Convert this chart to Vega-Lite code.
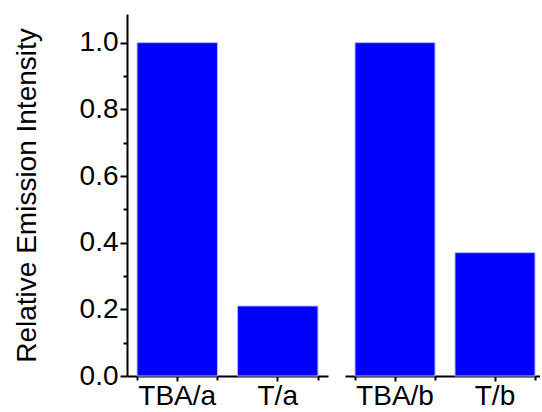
{
  "$schema": "https://vega.github.io/schema/vega-lite/v6.json",
  "padding": {"left": 13, "top": 14, "right": 0, "bottom": 0},
  "background": "white",
  "config": {
    "view": {"stroke": null},
    "font": "Liberation Sans",
    "axis": {
      "labelFont": "Liberation Sans",
      "titleFont": "Liberation Sans",
      "labelColor": "black",
      "titleColor": "black",
      "domainColor": "black",
      "tickColor": "black",
      "domainWidth": 2,
      "tickWidth": 2,
      "grid": false
    }
  },
  "data": {
    "values": [
      {"label": "TBA/a", "group": "a", "value": 1.0},
      {"label": "T/a", "group": "a", "value": 0.21},
      {"label": "TBA/b", "group": "b", "value": 1.0},
      {"label": "T/b", "group": "b", "value": 0.37}
    ]
  },
  "spacing": 17,
  "hconcat": [
    {
      "width": 201,
      "height": 362,
      "transform": [{"filter": "datum.group == 'a'"}],
      "layer": [
        {
          "mark": {"type": "bar", "fill": "#0000ff", "stroke": "#b4b4ff", "strokeWidth": 1},
          "encoding": {
            "x": {
              "field": "label", "type": "nominal", "sort": null,
              "scale": {"paddingInner": 0.2, "paddingOuter": 0.1},
              "axis": {"title": null, "labelAngle": 0, "labelFontSize": 28, "labelPadding": 1, "tickSize": 5, "orient": "bottom"}
            },
            "y": {
              "field": "value", "type": "quantitative",
              "scale": {"domain": [0, 1.086], "nice": false, "zero": true},
              "axis": {
                "title": "Relative Emission Intensity",
                "titleFontSize": 28,
                "titleFontWeight": "normal",
                "titlePadding": 38,
                "labelFontSize": 28,
                "labelPadding": 2,
                "values": [0, 0.1, 0.2, 0.3, 0.4, 0.5, 0.6, 0.7, 0.8, 0.9, 1.0],
                "labelExpr": "round(datum.value * 10) % 2 == 0 ? format(datum.value, '.1f') : ''",
                "tickSize": {"condition": {"test": "round(datum.value * 10) % 2 == 1", "value": 4}, "value": 7}
              }
            }
          }
        },
        {
          "mark": {"type": "point", "opacity": 0},
          "encoding": {
            "x": {
              "field": "label", "type": "nominal", "sort": null,
              "axis": {"title": null, "labels": false, "domain": false, "tickBand": "extent", "tickSize": 4, "orient": "bottom"}
            }
          }
        }
      ],
      "resolve": {"axis": {"x": "independent"}}
    },
    {
      "width": 195,
      "height": 362,
      "transform": [{"filter": "datum.group == 'b'"}],
      "layer": [
        {
          "mark": {"type": "bar", "fill": "#0000ff", "stroke": "#b4b4ff", "strokeWidth": 1},
          "encoding": {
            "x": {
              "field": "label", "type": "nominal", "sort": null,
              "scale": {"paddingInner": 0.2, "paddingOuter": 0.075, "align": 0.667},
              "axis": {"title": null, "labelAngle": 0, "labelFontSize": 28, "labelPadding": 1, "tickSize": 5, "orient": "bottom"}
            },
            "y": {
              "field": "value", "type": "quantitative",
              "scale": {"domain": [0, 1.086], "nice": false, "zero": true},
              "axis": null
            }
          }
        },
        {
          "mark": {"type": "point", "opacity": 0},
          "encoding": {
            "x": {
              "field": "label", "type": "nominal", "sort": null,
              "axis": {"title": null, "labels": false, "domain": false, "tickBand": "extent", "tickSize": 4, "orient": "bottom"}
            }
          }
        }
      ],
      "resolve": {"axis": {"x": "independent"}}
    }
  ]
}
